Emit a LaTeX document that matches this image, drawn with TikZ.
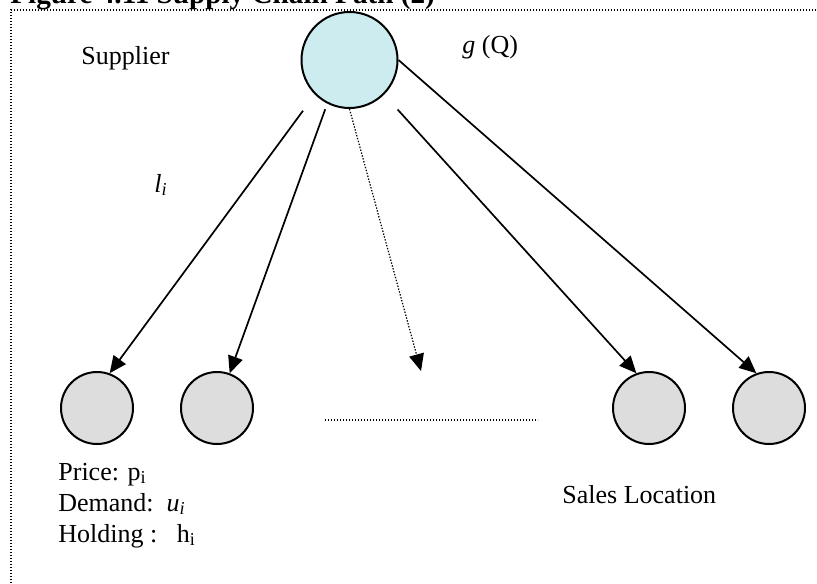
\documentclass[tikz,border=0pt]{standalone}
\usepackage{fontspec}
\setmainfont{Liberation Serif}
\usepackage{tikz}
\usetikzlibrary{arrows.meta}
\definecolor{suppliercyan}{RGB}{204,236,240}
\definecolor{locgray}{RGB}{221,221,221}

\begin{document}
\begin{tikzpicture}[x=0.5pt, y=-0.5pt, font=\fontsize{13}{15.5}\selectfont,
        site/.style={circle, draw, line width=1pt, fill=locgray, minimum size=36pt, inner sep=0pt},
        lbl/.style={anchor=base west, inner sep=0pt},
        link/.style={-{Triangle[length=8.5pt,width=7.5pt]}, line width=0.85pt},
        dots/.style={dash pattern=on 0.7pt off 0.8pt, line width=0.6pt}]
            \useasboundingbox (0,0) rectangle (817,583);

            % Title and frame
            \node[lbl, font=\fontsize{14.6}{17}\selectfont\bfseries] (title) at (10,4) {Figure 4.11 Supply Chain Path (2)};
            \draw[dots] (11,583) -- (11,10) -- (817,10);

            % Supplier
            \node[circle, draw, line width=1pt, fill=suppliercyan, minimum size=48pt, inner sep=0pt] (sup) at (349.5,60) {};
            \node[lbl] (suplabel) at (81,65) {Supplier};
            \node[lbl] (cost) at (462,54) {\textit{g} (Q)};
            \node[lbl] (lead) at (154,192) {\textit{l}\textsubscript{\textit{i}}};

            % Sales locations
            \node[site] (loc1) at (97,408) {};
            \node[site] (loc2) at (217,408) {};
            \node[site] (loc3) at (649,408) {};
            \node[site] (loc4) at (769,408) {};
            \coordinate (gapL) at (325,420);
            \coordinate (gapR) at (538,420);
            \coordinate (gapTip) at (421,371);

            % Paths
            \draw[link, shorten <=10pt] (sup.225) -- (loc1.70);
            \draw[link, shorten <=3pt] (sup.243) -- (loc2.70);
            \draw[link, dots] (sup.south) -- (gapTip);
            \draw[link, shorten <=10pt] (sup.315) -- (loc3.110);
            \draw[link] (sup.east) -- (loc4.110);
            \draw[dots] (gapL) -- (gapR);

            % Location data
            \node[lbl] (price) at (58,480) {Price: p\textsubscript{i}};
            \node[lbl] (demand) at (58,511) {Demand:\ \ \textit{u}\textsubscript{\textit{i}}};
            \node[lbl] (holding) at (58,542) {Holding :\ \ \ h\textsubscript{i}};
            \node[lbl] (sales) at (562,503) {Sales Location};
        \end{tikzpicture}
\end{document}
